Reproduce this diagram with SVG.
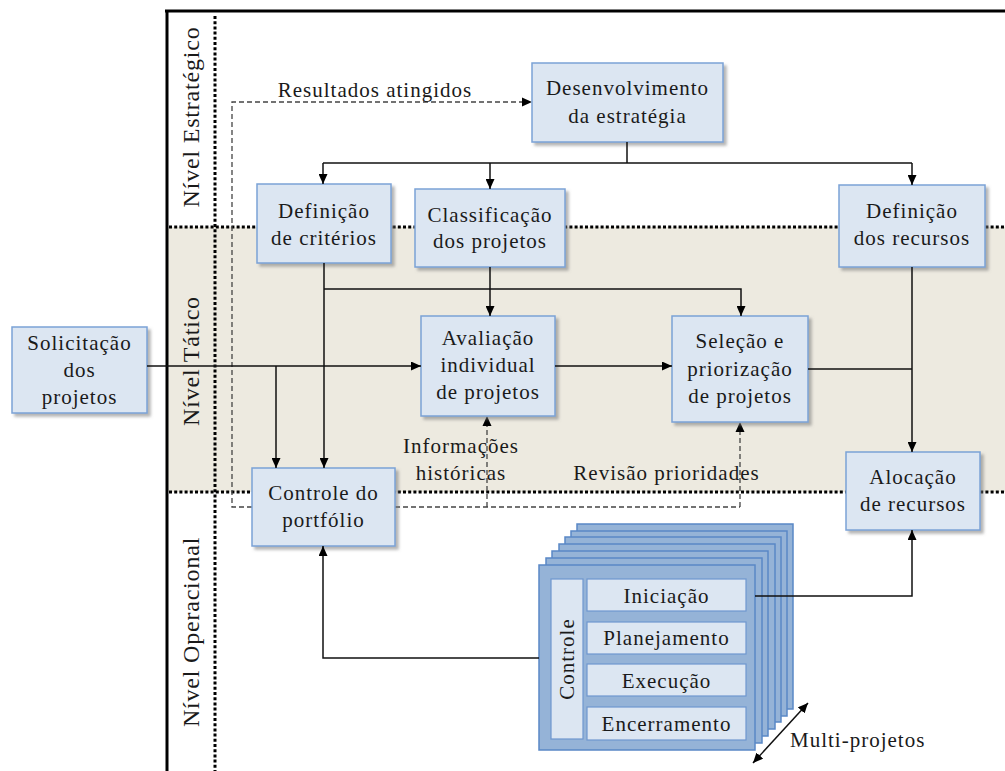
<svg xmlns="http://www.w3.org/2000/svg" width="1005" height="771" viewBox="0 0 1005 771">
  <style>
    text { font-family: "Liberation Serif", "Times New Roman", serif; fill: #1a1a1a; }
    .lbl { font-size: 21px; letter-spacing: 1px; text-anchor: middle; }
    .lvl { font-size: 24px; letter-spacing: 0.8px; text-anchor: middle; }
    .box { fill: #DCE6F2; stroke: #7BA2D6; stroke-width: 1.5; }
    .stack { fill: #95B3D7; stroke: #5A88C6; stroke-width: 1.5; }
    .inner { fill: #DCE6F2; stroke: #6E97CF; stroke-width: 1.2; }
    .dot { fill: none; stroke: #000; stroke-width: 3; stroke-dasharray: 3 2.2; }
    .edge { fill: none; stroke: #111; stroke-width: 1.5; }
    .dash { fill: none; stroke: #444; stroke-width: 1.3; stroke-dasharray: 5 3; }
  </style>
  <defs>
    <marker id="arrow" markerUnits="userSpaceOnUse" markerWidth="10" markerHeight="9" refX="10" refY="4.5" orient="auto-start-reverse">
      <path d="M0,0 L10,4.5 L0,9 z" fill="#000"/>
    </marker>
    <filter id="shadow" x="-10%" y="-10%" width="130%" height="130%">
      <feDropShadow dx="3" dy="3" stdDeviation="1.6" flood-color="#777" flood-opacity="0.55"/>
    </filter>
  </defs>

  <rect width="1005" height="771" fill="#fff"/>

  <!-- tactical band -->
  <rect x="168" y="227" width="837" height="265" fill="#EDEAE0"/>

  <!-- frame and level separators -->
  <g id="frame">
    <line x1="165" y1="11" x2="1005" y2="11" stroke="#000" stroke-width="3"/>
    <line x1="167" y1="10" x2="167" y2="771" stroke="#000" stroke-width="3"/>
    <line class="dot" x1="215" y1="16" x2="215" y2="771"/>
    <line class="dot" x1="169" y1="227" x2="1005" y2="227"/>
    <line class="dot" x1="169" y1="492" x2="1005" y2="492"/>
  </g>

  <!-- level labels -->
  <g id="levels">
    <text class="lvl" transform="translate(199,117) rotate(-90)">Nível Estratégico</text>
    <text class="lvl" transform="translate(199,361) rotate(-90)">Nível Tático</text>
    <text class="lvl" transform="translate(199,632) rotate(-90)">Nível Operacional</text>
  </g>

  <!-- dashed feedback paths (drawn under the boxes) -->
  <g id="feedback">
    <polyline class="dash" points="252,507 232,507 232,102 522,102"/>
    <line class="dash" x1="395" y1="507" x2="740" y2="507"/>
    <line class="dash" x1="487" y1="507" x2="487" y2="426"/>
    <line class="dash" x1="740" y1="507" x2="740" y2="432"/>
    <path d="M522,97.5 L532,102 L522,106.5 z" fill="#000"/>
    <path d="M482.5,426 L487,416 L491.5,426 z" fill="#000"/>
    <path d="M735.5,432 L740,422 L744.5,432 z" fill="#000"/>
  </g>

  <g id="desenvolvimento">
    <rect class="box" x="532" y="63" width="191" height="79" filter="url(#shadow)"/>
    <text class="lbl" x="627.5" y="95">Desenvolvimento</text>
    <text class="lbl" x="627.5" y="123">da estratégia</text>
  </g>

  <g id="def-criterios">
    <rect class="box" x="257" y="184" width="134" height="79" filter="url(#shadow)"/>
    <text class="lbl" x="324" y="218">Definição</text>
    <text class="lbl" x="324" y="245">de critérios</text>
  </g>

  <g id="classificacao">
    <rect class="box" x="415" y="189" width="150" height="78" filter="url(#shadow)"/>
    <text class="lbl" x="490" y="222">Classificação</text>
    <text class="lbl" x="490" y="248">dos projetos</text>
  </g>

  <g id="def-recursos">
    <rect class="box" x="839" y="185" width="146" height="82" filter="url(#shadow)"/>
    <text class="lbl" x="912" y="218">Definição</text>
    <text class="lbl" x="912" y="245">dos recursos</text>
  </g>

  <g id="solicitacao">
    <rect class="box" x="12" y="327" width="135" height="86" filter="url(#shadow)"/>
    <text class="lbl" x="79.5" y="350">Solicitação</text>
    <text class="lbl" x="79.5" y="377">dos</text>
    <text class="lbl" x="79.5" y="404">projetos</text>
  </g>

  <g id="avaliacao">
    <rect class="box" x="421" y="316" width="134" height="100" filter="url(#shadow)"/>
    <text class="lbl" x="488" y="345">Avaliação</text>
    <text class="lbl" x="488" y="372">individual</text>
    <text class="lbl" x="488" y="399">de projetos</text>
  </g>

  <g id="selecao">
    <rect class="box" x="672" y="316" width="136" height="106" filter="url(#shadow)"/>
    <text class="lbl" x="740" y="348">Seleção e</text>
    <text class="lbl" x="740" y="376">priorização</text>
    <text class="lbl" x="740" y="403">de projetos</text>
  </g>

  <g id="alocacao">
    <rect class="box" x="846" y="452" width="134" height="78" filter="url(#shadow)"/>
    <text class="lbl" x="913" y="484">Alocação</text>
    <text class="lbl" x="913" y="511">de recursos</text>
  </g>

  <g id="controle-portfolio">
    <rect class="box" x="252" y="468" width="143" height="78" filter="url(#shadow)"/>
    <text class="lbl" x="323.5" y="500">Controle do</text>
    <text class="lbl" x="323.5" y="527">portfólio</text>
  </g>

  <!-- stack of concurrent projects -->
  <g id="projetos">
    <rect class="stack" x="577" y="524" width="216" height="185"/>
    <rect class="stack" x="571" y="531" width="216" height="185"/>
    <rect class="stack" x="565" y="537" width="216" height="185"/>
    <rect class="stack" x="559" y="544" width="216" height="185"/>
    <rect class="stack" x="552" y="551" width="216" height="185"/>
    <rect class="stack" x="546" y="558" width="216" height="185"/>
    <rect class="stack" x="539" y="565" width="216" height="185"/>
    <rect class="inner" x="551" y="579" width="32" height="160"/>
    <text class="lbl" transform="translate(574,659) rotate(-90)">Controle</text>
    <rect class="inner" x="587" y="579" width="159" height="32"/>
    <text class="lbl" x="666.5" y="603">Iniciação</text>
    <rect class="inner" x="587" y="622" width="159" height="32"/>
    <text class="lbl" x="666.5" y="645">Planejamento</text>
    <rect class="inner" x="587" y="664" width="159" height="32"/>
    <text class="lbl" x="666.5" y="688">Execução</text>
    <rect class="inner" x="587" y="707" width="159" height="33"/>
    <text class="lbl" x="666.5" y="731">Encerramento</text>
  </g>

  <!-- connectors -->
  <g id="connectors">
    <line class="edge" x1="627" y1="142" x2="627" y2="163"/>
    <line class="edge" x1="323" y1="163" x2="912" y2="163"/>
    <line class="edge" x1="323" y1="163" x2="323" y2="184" marker-end="url(#arrow)"/>
    <line class="edge" x1="490" y1="163" x2="490" y2="189" marker-end="url(#arrow)"/>
    <line class="edge" x1="912" y1="163" x2="912" y2="185" marker-end="url(#arrow)"/>

    <line class="edge" x1="324" y1="263" x2="324" y2="468" marker-end="url(#arrow)"/>
    <polyline class="edge" points="324,289 741,289 741,316" marker-end="url(#arrow)"/>
    <line class="edge" x1="490" y1="267" x2="490" y2="316" marker-end="url(#arrow)"/>

    <line class="edge" x1="147" y1="366" x2="421" y2="366" marker-end="url(#arrow)"/>
    <line class="edge" x1="276" y1="366" x2="276" y2="468" marker-end="url(#arrow)"/>
    <line class="edge" x1="555" y1="366" x2="672" y2="366" marker-end="url(#arrow)"/>
    <line class="edge" x1="808" y1="369" x2="912" y2="369"/>
    <line class="edge" x1="912" y1="267" x2="912" y2="452" marker-end="url(#arrow)"/>

    <polyline class="edge" points="755,596 912,596 912,530" marker-end="url(#arrow)"/>
    <polyline class="edge" points="539,658 323,658 323,546" marker-end="url(#arrow)"/>

    <line class="edge" x1="753" y1="763" x2="808" y2="703" marker-start="url(#arrow)" marker-end="url(#arrow)"/>
  </g>

  <!-- free labels -->
  <g id="labels">
    <text class="lbl" x="375" y="97">Resultados atingidos</text>
    <text class="lbl" x="461" y="453">Informações</text>
    <text class="lbl" x="461" y="480">históricas</text>
    <text class="lbl" x="666.5" y="480">Revisão prioridades</text>
    <text class="lbl" x="790" y="747" style="text-anchor:start">Multi-projetos</text>
  </g>
</svg>
